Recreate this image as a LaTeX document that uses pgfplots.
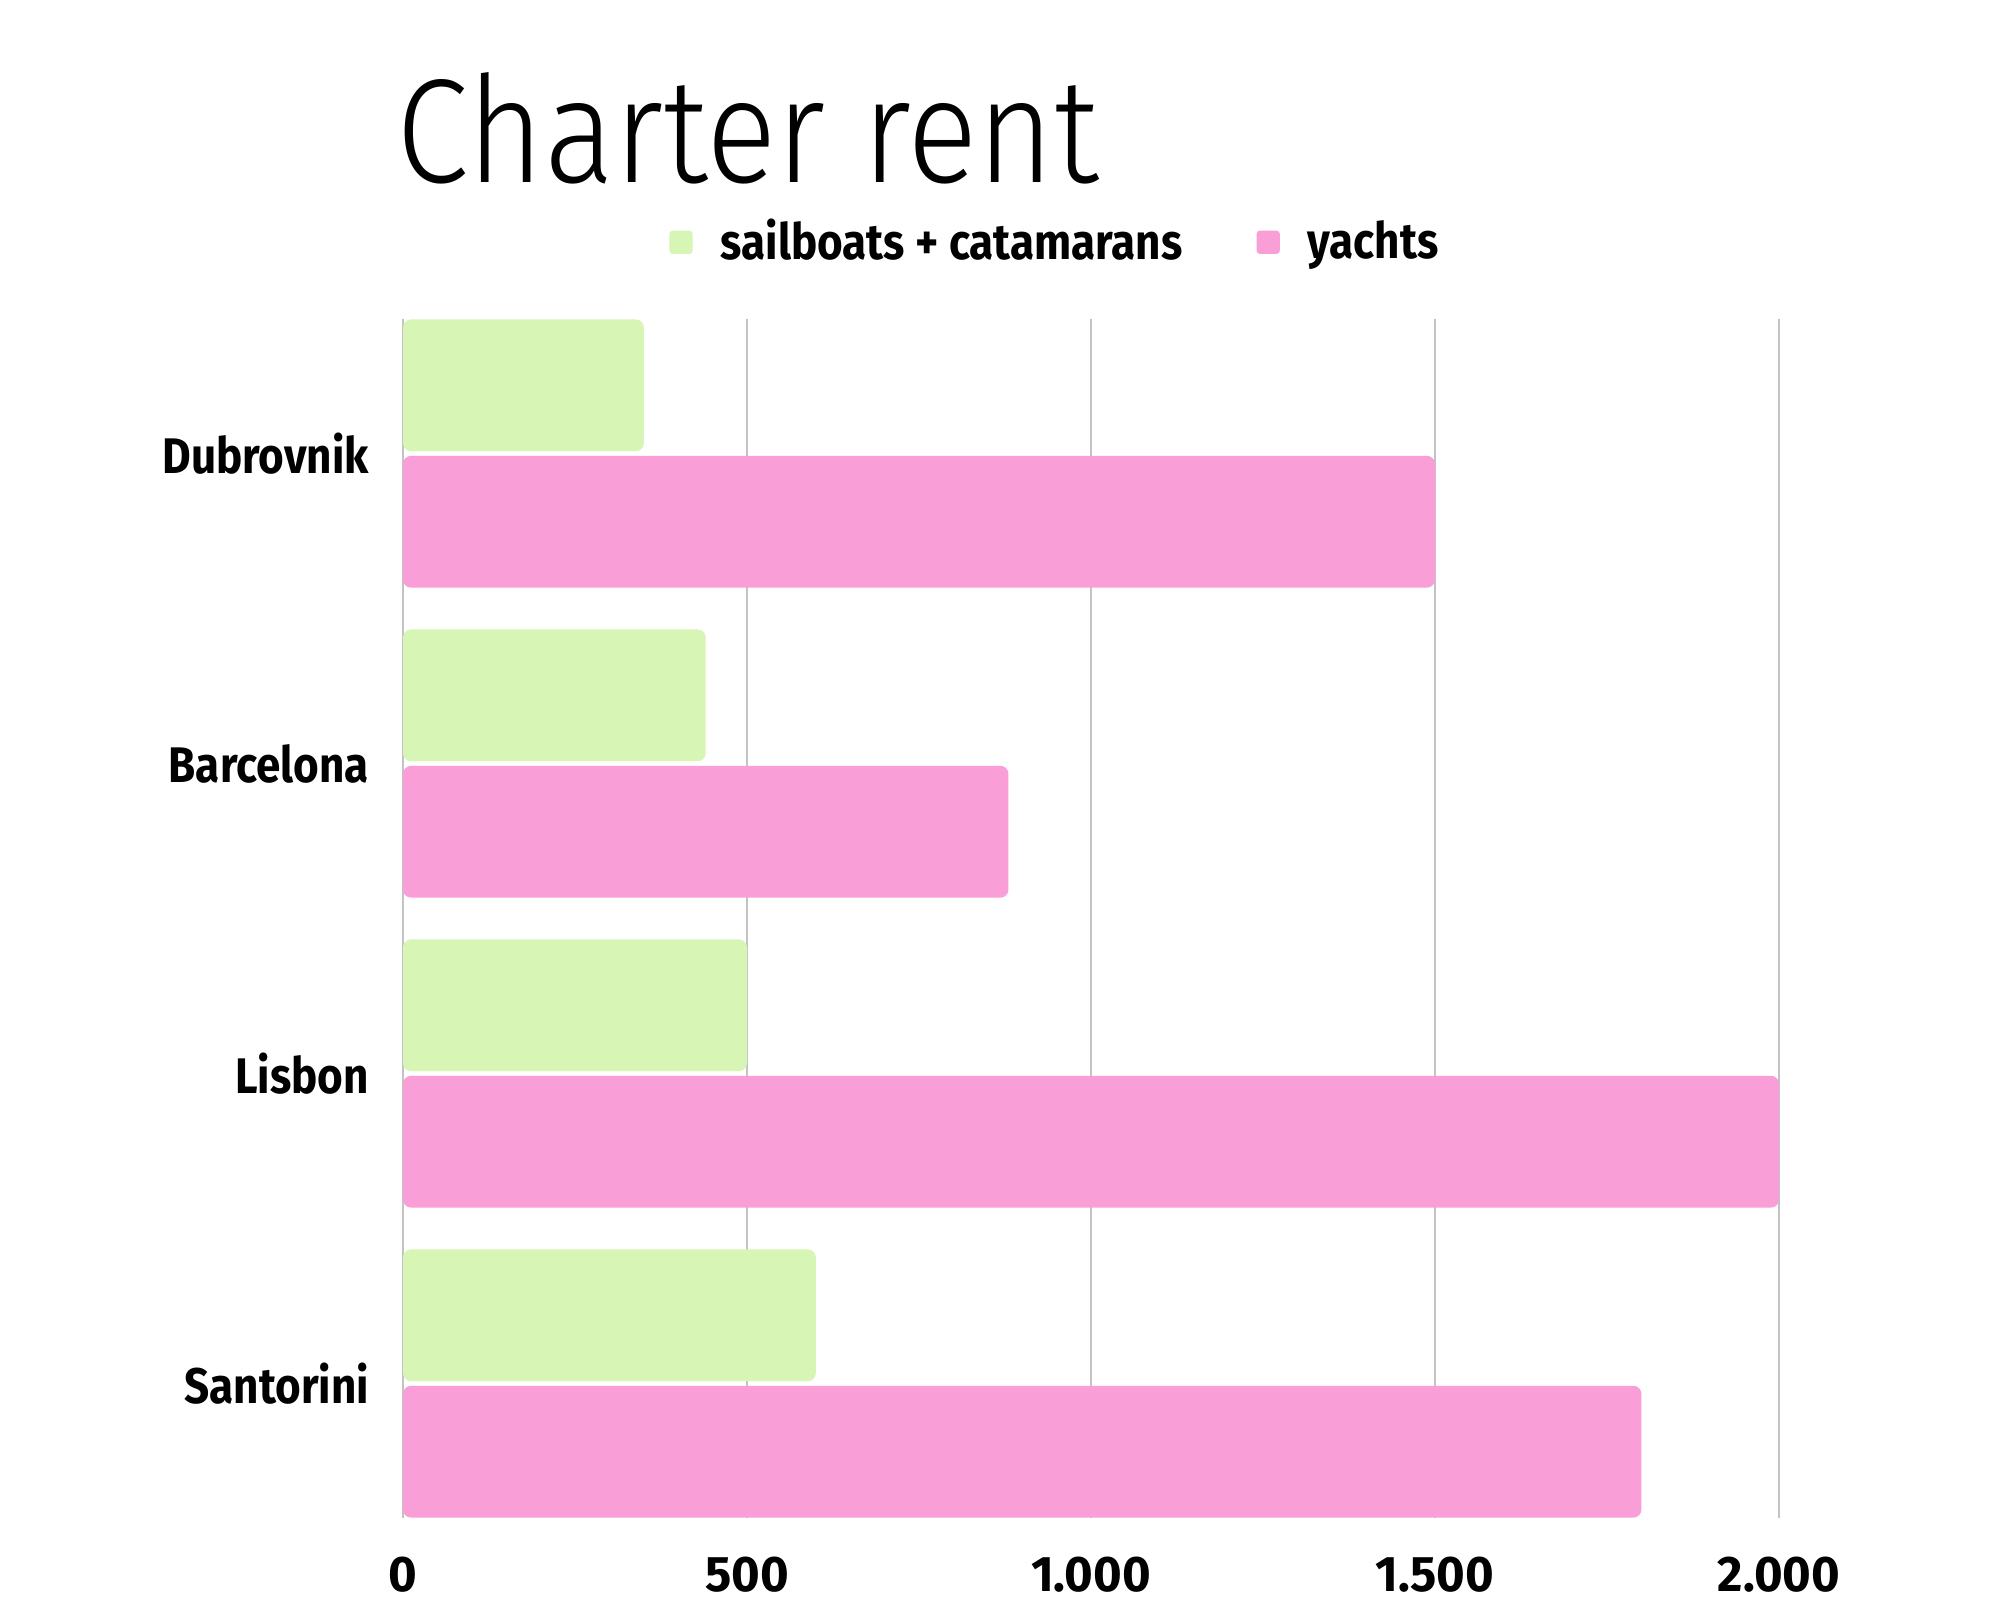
\documentclass[border=0pt]{standalone}
\usepackage{pgfplots}
\pgfplotsset{compat=1.18}
\usepackage{fontspec}
\setmainfont{Fira Sans}[FakeStretch=0.88]
\newfontfamily\titlefont{Fira Sans Light}[FakeStretch=0.887]
\newfontfamily\tickfont{Fira Sans}[FakeStretch=0.98]
\definecolor{sailgreen}{RGB}{215,245,180}
\definecolor{yachtpink}{RGB}{249,158,215}
\definecolor{gridgray}{RGB}{195,195,195}

\begin{document}
\begin{tikzpicture}[x=1pt,y=1pt]
\path[fill=white] (0,0) rectangle (500,400);
\node[anchor=base west, inner sep=0, font=\titlefont\fontsize{37}{40}\selectfont] at (98.9,354.5) {Charter rent};
\begin{axis}[
  at={(100.75pt,20.5pt)}, anchor=south west,
  width=344pt, height=299.75pt, scale only axis,
  xbar, bar width=0.425,
  xmin=0, xmax=2000, ymin=-0.434, ymax=3.434,
  y dir=reverse,
  ytick={0,1,2,3}, yticklabels={Dubrovnik,Barcelona,Lisbon,Santorini},
  xtick={0,500,1000,1500,2000}, xticklabels={0,500,1.000,1.500,2.000},
  axis line style={draw=none}, major tick length=0pt,
  xmajorgrids=true, grid style={gridgray, line width=0.4pt},
  yticklabel style={font=\bfseries\fontsize{12.5}{14}\selectfont, xshift=-5pt},
  xticklabel style={font=\tickfont\bfseries\fontsize{12.5}{14}\selectfont, inner sep=0pt, yshift=-9.6pt},
  legend style={at={(0.476,1.064)}, anchor=center, draw=none, fill=none,
    legend columns=2, font=\bfseries\fontsize{12.5}{14}\selectfont,
    /tikz/every odd column/.append style={column sep=5pt},
    /tikz/every even column/.append style={column sep=16.5pt}},
  legend image code/.code={\fill[#1, rounded corners=0.8pt] (0pt,-2.9pt) rectangle (5.8pt,2.9pt);},
]
\addplot[fill=sailgreen, draw=none, rounded corners=2pt, bar shift=-0.22]
  coordinates {(350,0) (440,1) (500,2) (600,3)};
\addlegendentry{sailboats + catamarans}
\addplot[fill=yachtpink, draw=none, rounded corners=2pt, bar shift=0.22]
  coordinates {(1500,0) (880,1) (2000,2) (1800,3)};
\addlegendentry{yachts}
\end{axis}
\end{tikzpicture}
\end{document}
